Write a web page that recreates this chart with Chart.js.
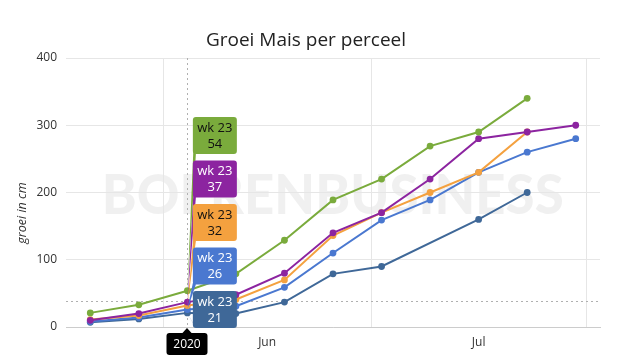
<!DOCTYPE html>
<html><head><meta charset="utf-8">
<script src="https://cdn.jsdelivr.net/npm/chart.js@4/dist/chart.umd.min.js"></script>
<style>html,body{margin:0;padding:0;background:#fff}#wrap{width:625px;height:358px;position:relative}</style>
</head><body><div id="wrap"><canvas id="c" width="625" height="358"></canvas></div>
<script>
// ---- data ----
const titleText = 'Groei Mais per perceel';
const yTitle = 'groei in cm';
const watermark = 'BOERENBUSINESS';
const dates = ['2020-05-21','2020-05-28','2020-06-04','2020-06-11','2020-06-18','2020-06-25','2020-07-02','2020-07-09','2020-07-16','2020-07-23','2020-07-30'];
const seriesNames = ['Perceel 1','Perceel 2','Perceel 3','Perceel 4','Perceel 5'];
const perceel1 = [21, 33, 54, 79, 129, 189, 220, 269, 290, 340, null];
const perceel2 = [10, 20, 37, 48, 80, 140, 170, 220, 280, 290, 300];
const perceel3 = [11, 17, 32, 41, 70, 136, 170, 200, 230, 290, null];
const perceel4 = [8, 14, 26, 31, 59, 110, 159, 189, 230, 260, 280];
const perceel5 = [7, 12, 21, 20, 37, 79, 90, null, 160, 200, null];
const seriesValues = [perceel1, perceel2, perceel3, perceel4, perceel5];
const seriesColors = ['#7aab3c', '#8c24a0', '#f4a13f', '#4a78d0', '#3f6898'];
const tooltipTextColors = ['#111', '#fff', '#111', '#fff', '#fff'];
const yTicks = [0, 100, 200, 300, 400];
const monthStarts = ['2020-06-01', '2020-07-01', '2020-08-01'];
const monthLabels = ['Jun', 'Jul'];
const refLineValue = 38;
const hoverIndex = 2;
const hoverWeek = 'wk 23';
const hoverYear = '2020';

// ---- helpers ----
const FONT = "'Open Sans', sans-serif";
const DAY = 864e5, ORIGIN = Date.UTC(2020, 5, 1);
function dayOf(s, hour) { const [y, m, d] = s.split('-').map(Number); return (Date.UTC(y, m - 1, d, hour) - ORIGIN) / DAY; }
const xs = dates.map(d => dayOf(d, 12));
const monthX = monthStarts.map(d => dayOf(d, 0));
const monthMid = monthLabels.map((_, i) => (monthX[i] + monthX[i + 1]) / 2);

const datasets = seriesValues.map((vals, i) => ({
  label: seriesNames[i],
  data: vals.map((v, j) => ({ x: xs[j], y: v })),
  borderColor: seriesColors[i],
  backgroundColor: seriesColors[i],
  borderWidth: 2,
  pointRadius: 3.4,
  pointHoverRadius: 3.4,
  pointBorderWidth: 0,
  tension: 0,
  spanGaps: true
}));

function roundRect(ctx, x, y, w, h, r) {
  ctx.beginPath();
  ctx.moveTo(x + r, y); ctx.lineTo(x + w - r, y); ctx.quadraticCurveTo(x + w, y, x + w, y + r);
  ctx.lineTo(x + w, y + h - r); ctx.quadraticCurveTo(x + w, y + h, x + w - r, y + h);
  ctx.lineTo(x + r, y + h); ctx.quadraticCurveTo(x, y + h, x, y + h - r);
  ctx.lineTo(x, y + r); ctx.quadraticCurveTo(x, y, x + r, y); ctx.closePath();
}

const decor = {
  id: 'decor',
  beforeDraw(chart) {
    const { ctx, chartArea: a } = chart;
    ctx.save();
    ctx.fillStyle = '#fff'; ctx.fillRect(0, 0, chart.width, chart.height);
    // watermark
    ctx.font = `900 56px Lato, ${FONT}`;
    const w = ctx.measureText(watermark).width;
    const target = (a.right - a.left) * 0.865;
    ctx.translate(a.left + (a.right - a.left) * 0.067, (a.top + a.bottom) / 2 + 3);
    ctx.scale(target / w, 1);
    ctx.fillStyle = 'rgba(0,0,0,0.06)';
    ctx.textBaseline = 'middle'; ctx.textAlign = 'left';
    ctx.fillText(watermark, 0, 0);
    ctx.restore();
  },
  beforeDatasetsDraw(chart) {
    const { ctx, chartArea: a, scales } = chart;
    ctx.save();
    ctx.strokeStyle = '#b0b0b0'; ctx.lineWidth = 1; ctx.setLineDash([2, 3]);
    const ry = Math.round(scales.y.getPixelForValue(refLineValue)) + 0.5;
    ctx.beginPath(); ctx.moveTo(a.left, ry); ctx.lineTo(a.right, ry); ctx.stroke();
    const cx = Math.round(scales.x.getPixelForValue(xs[hoverIndex])) + 0.5;
    ctx.beginPath(); ctx.moveTo(cx, a.top); ctx.lineTo(cx, a.bottom); ctx.stroke();
    ctx.restore();
  },
  afterDraw(chart) {
    const { ctx, chartArea: a, scales } = chart;
    ctx.save();
    // title
    ctx.fillStyle = '#222'; ctx.font = `19px ${FONT}`; ctx.textAlign = 'center'; ctx.textBaseline = 'alphabetic';
    ctx.fillText(titleText, 306, 46);
    // y title
    ctx.save();
    ctx.translate(22, 213); ctx.rotate(-Math.PI / 2);
    ctx.font = `italic 12.5px ${FONT}`; ctx.fillStyle = '#333'; ctx.textBaseline = 'middle';
    ctx.fillText(yTitle, 0, 0);
    ctx.restore();
    // split tooltip
    const px = scales.x.getPixelForValue(xs[hoverIndex]);
    const items = seriesValues.map((vals, i) => ({ i, v: vals[hoverIndex], py: scales.y.getPixelForValue(vals[hoverIndex]) }))
      .sort((p, q) => p.py - q.py);
    const bh = 37, bw = 44, gap = 6.5;
    let limit = a.bottom + 1;
    for (let k = items.length - 1; k >= 0; k--) {
      const it = items[k];
      const top = Math.min(it.py - bh / 2, limit - bh);
      it.top = top; limit = top - gap;
    }
    const bx = px + 5.5;
    items.forEach(it => {
      const col = seriesColors[it.i];
      ctx.fillStyle = col;
      ctx.beginPath();
      ctx.moveTo(bx + 0.5, it.top + bh - 4); ctx.lineTo(px, it.py); ctx.lineTo(bx + 3, it.top + bh); ctx.closePath(); ctx.fill();
      roundRect(ctx, bx, it.top, bw, bh, 3); ctx.fill();
      ctx.fillStyle = tooltipTextColors[it.i];
      ctx.font = `13px ${FONT}`; ctx.textAlign = 'center'; ctx.textBaseline = 'middle';
      ctx.fillText(hoverWeek, bx + bw / 2, it.top + 11);
      ctx.fillText(String(it.v), bx + bw / 2, it.top + 27);
    });
    // crosshair label
    const lx = Math.round(px);
    ctx.fillStyle = '#000';
    roundRect(ctx, lx - 20.5, a.bottom + 6, 41, 22, 3); ctx.fill();
    ctx.beginPath(); ctx.moveTo(lx - 5, a.bottom + 6.5); ctx.lineTo(lx, a.bottom + 1); ctx.lineTo(lx + 5, a.bottom + 6.5); ctx.closePath(); ctx.fill();
    ctx.fillStyle = '#fff'; ctx.font = `12px ${FONT}`; ctx.textAlign = 'center'; ctx.textBaseline = 'middle';
    ctx.fillText(hoverYear, lx, a.bottom + 17.5);
    ctx.restore();
  }
};

Chart.defaults.font.family = FONT;
new Chart(document.getElementById('c'), {
  type: 'line',
  data: { datasets },
  options: {
    responsive: false,
    animation: false,
    events: [],
    layout: { padding: { top: 58, right: 25, bottom: 0, left: 0 } },
    plugins: { legend: { display: false }, tooltip: { enabled: false }, title: { display: false } },
    scales: {
      x: {
        type: 'linear',
        min: xs[0] - 3.5,
        max: xs[xs.length - 1] + 3.5,
        afterBuildTicks: s => { s.ticks = monthX.concat(monthMid).sort((p, q) => p - q).map(v => ({ value: v })); },
        afterFit: s => { s.height = 31; },
        ticks: {
          autoSkip: false, maxRotation: 0, padding: 8, color: '#333', font: { size: 12 },
          callback: v => { const i = monthMid.indexOf(v); return i >= 0 ? monthLabels[i] : ''; }
        },
        grid: { drawTicks: false, color: c => (c.tick && monthX.includes(c.tick.value)) ? '#e6e6e6' : 'rgba(0,0,0,0)' },
        border: { display: true, color: '#cccccc' }
      },
      y: {
        min: yTicks[0], max: yTicks[yTicks.length - 1],
        afterBuildTicks: s => { s.ticks = yTicks.map(v => ({ value: v })); },
        afterFit: s => { s.width = 66; },
        ticks: { padding: 9, color: '#333', font: { size: 12 } },
        grid: { drawTicks: false, color: '#e6e6e6' },
        border: { display: false }
      }
    }
  },
  plugins: [decor]
});
</script></body></html>
